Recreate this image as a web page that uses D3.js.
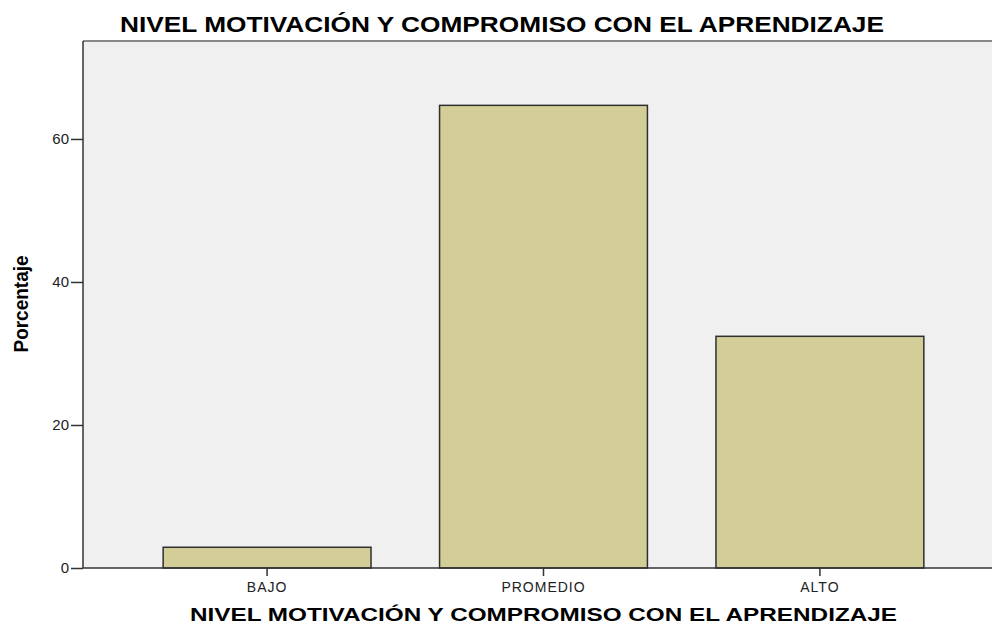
<!DOCTYPE html>
<html>
<head>
<meta charset="utf-8">
<script src="https://cdn.jsdelivr.net/npm/d3@7"></script>
<style>
body { margin: 0; background: #fff; }
text { font-family: "Liberation Sans", Arial, sans-serif; fill: #000; }
</style>
</head>
<body>
<svg width="992" height="625"></svg>
<script>
var categories = ['BAJO', 'PROMEDIO', 'ALTO'];
var porcentaje = [2.9, 64.7, 32.4];
var yTicks = [0, 20, 40, 60];
var titulo = 'NIVEL MOTIVACIÓN Y COMPROMISO CON EL APRENDIZAJE';

var svg = d3.select('svg');

var plotLeft = 83, plotRight = 1004, plotTop = 41, plotBottom = 568;

var x = d3.scaleBand()
    .domain(categories)
    .range([plotLeft, plotRight])
    .paddingInner(0.248)
    .paddingOuter(0.29);

var y = d3.scaleLinear()
    .domain([0, 73.7])
    .range([plotBottom, plotTop]);

// plot background
svg.append('rect')
    .attr('x', plotLeft)
    .attr('y', plotTop)
    .attr('width', plotRight - plotLeft)
    .attr('height', plotBottom - plotTop)
    .style('fill', '#f0f0f0');

svg.append('line')
    .attr('x1', plotLeft)
    .attr('x2', plotRight)
    .attr('y1', plotTop)
    .attr('y2', plotTop)
    .style('stroke', '#888')
    .style('stroke-width', 2);

// bars
svg.selectAll('.bar')
    .data(categories)
    .enter()
    .append('rect')
    .attr('class', 'bar')
    .attr('x', function(d) { return x(d); })
    .attr('y', function(d, i) { return y(porcentaje[i]); })
    .attr('width', x.bandwidth())
    .attr('height', function(d, i) { return plotBottom - y(porcentaje[i]); })
    .style('fill', '#d3ce98')
    .style('stroke', '#2f2f2f')
    .style('stroke-width', 1.5);

// y axis
var yAxis = svg.append('g')
    .attr('transform', 'translate(' + plotLeft + ',0)')
    .call(d3.axisLeft(y).tickValues(yTicks).tickSize(12).tickPadding(2).tickFormat(d3.format('d')));
yAxis.select('.domain').remove();
yAxis.selectAll('line').style('stroke', '#333').style('stroke-width', 1.5);
yAxis.selectAll('text')
    .style('font-size', '15px')
    .style('font-family', '"Liberation Sans", Arial, sans-serif')
    .style('fill', '#222');

svg.append('line')
    .attr('x1', plotLeft)
    .attr('x2', plotLeft)
    .attr('y1', plotTop)
    .attr('y2', plotBottom)
    .style('stroke', '#333')
    .style('stroke-width', 1.5);

// x axis
var xAxis = svg.append('g')
    .attr('transform', 'translate(0,' + plotBottom + ')')
    .call(d3.axisBottom(x).tickSize(8).tickPadding(6));
xAxis.select('.domain').remove();
xAxis.selectAll('line').style('stroke', '#333').style('stroke-width', 1.5);
xAxis.selectAll('text')
    .style('font-size', '14px')
    .style('letter-spacing', '1px')
    .style('font-family', '"Liberation Sans", Arial, sans-serif')
    .style('fill', '#222');

svg.append('line')
    .attr('x1', plotLeft)
    .attr('x2', plotRight)
    .attr('y1', plotBottom)
    .attr('y2', plotBottom)
    .style('stroke', '#333')
    .style('stroke-width', 1.5);

// titles
svg.append('text')
    .attr('x', 502)
    .attr('y', 32)
    .attr('text-anchor', 'middle')
    .attr('textLength', 764)
    .attr('lengthAdjust', 'spacingAndGlyphs')
    .style('font-size', '22px')
    .style('font-weight', 'bold')
    .text(titulo);

svg.append('text')
    .attr('x', 543.5)
    .attr('y', 621)
    .attr('text-anchor', 'middle')
    .attr('textLength', 707)
    .attr('lengthAdjust', 'spacingAndGlyphs')
    .style('font-size', '18px')
    .style('font-weight', 'bold')
    .text(titulo);

svg.append('text')
    .attr('transform', 'translate(28,304) rotate(-90)')
    .attr('text-anchor', 'middle')
    .attr('textLength', 97)
    .attr('lengthAdjust', 'spacingAndGlyphs')
    .style('font-size', '20px')
    .style('font-weight', 'bold')
    .text('Porcentaje');
</script>
</body>
</html>
